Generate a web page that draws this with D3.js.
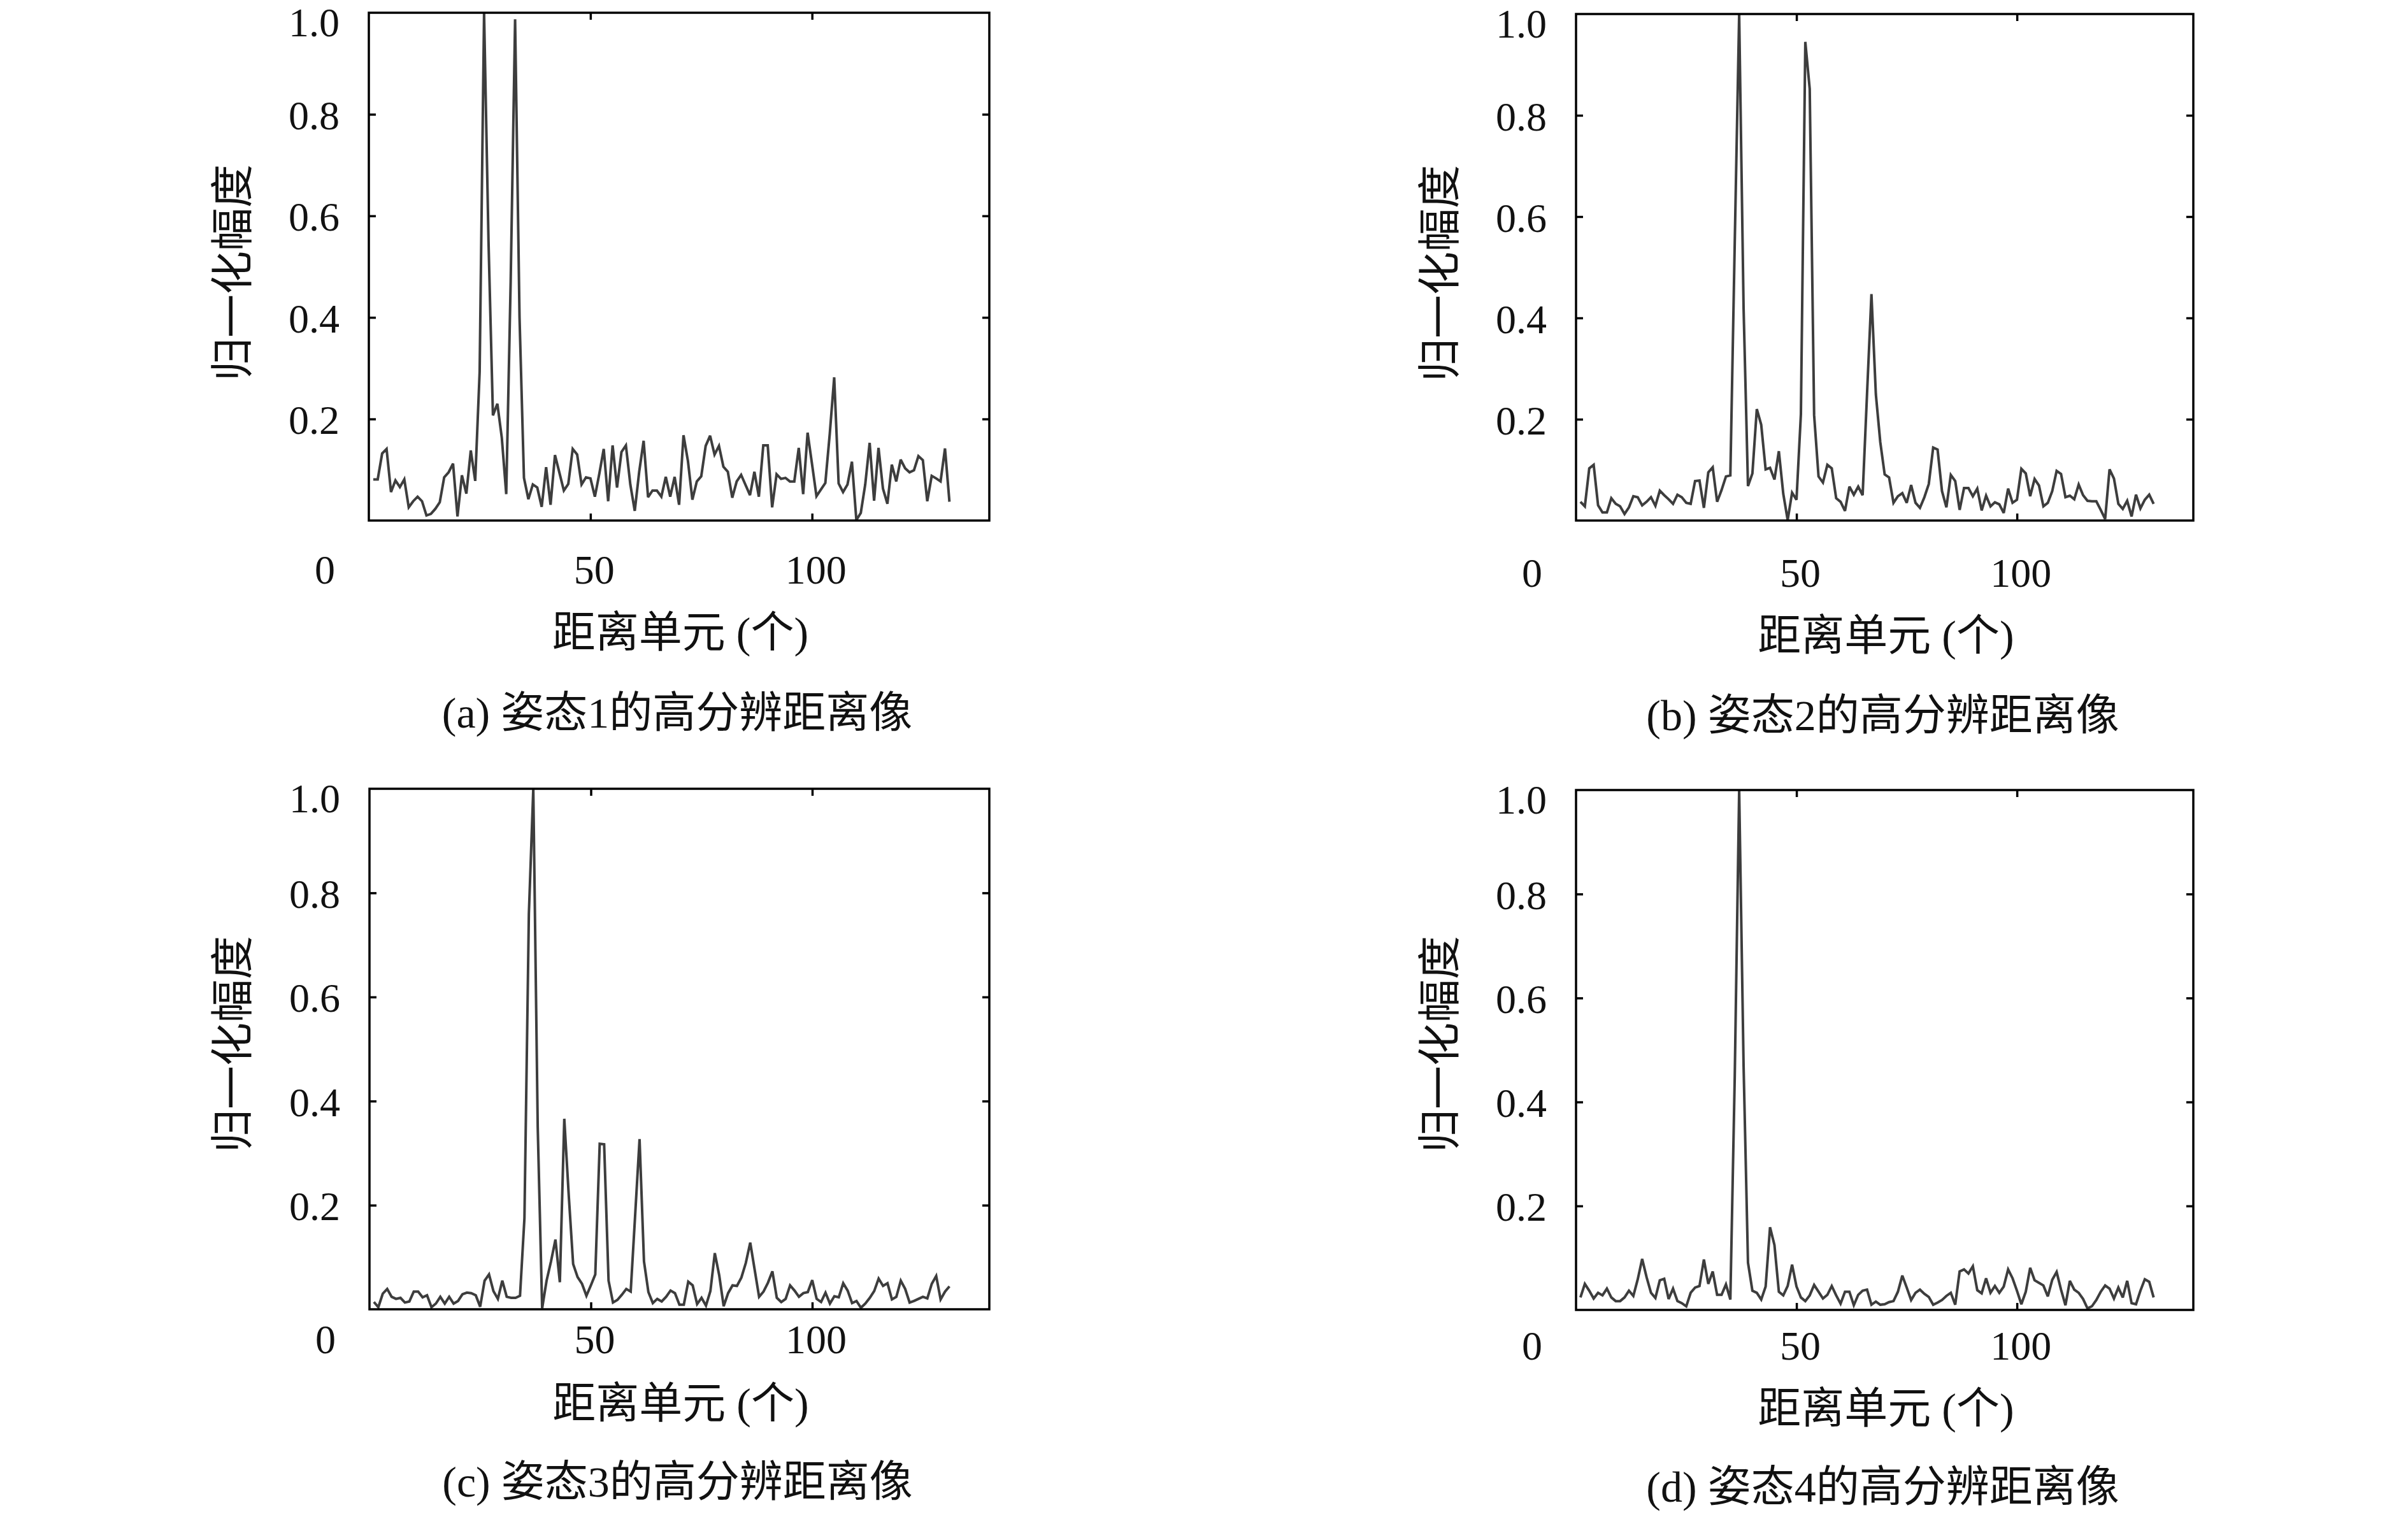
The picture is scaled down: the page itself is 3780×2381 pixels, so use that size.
<!DOCTYPE html>
<html><head><meta charset="utf-8">
<script src="https://cdn.jsdelivr.net/npm/d3@7"></script>
<style>html,body{margin:0;padding:0;background:#fff;} svg{display:block;}</style>
</head><body>
<svg id="chart" width="3780" height="2381"></svg>
<script>
// ---------- data ----------
const rangeCells = d3.range(1, 132); // 距离单元 index 1..131

const poseA = [0.081,0.081,0.132,0.141,0.056,0.079,0.066,0.081,0.026,0.038,
0.047,0.038,0.010,0.013,0.023,0.036,0.085,0.095,0.112,0.008,
0.089,0.053,0.138,0.078,0.293,1.000,0.550,0.207,0.230,0.163,
0.052,0.470,0.987,0.400,0.084,0.042,0.071,0.065,0.027,0.105,
0.031,0.129,0.094,0.059,0.072,0.141,0.130,0.071,0.085,0.083,
0.047,0.092,0.141,0.038,0.148,0.065,0.135,0.148,0.071,0.019,
0.096,0.157,0.046,0.059,0.059,0.047,0.086,0.047,0.086,0.031,
0.168,0.117,0.041,0.077,0.087,0.147,0.167,0.130,0.147,0.106,
0.096,0.045,0.077,0.090,0.070,0.050,0.096,0.047,0.148,0.148,
0.026,0.091,0.082,0.084,0.077,0.077,0.143,0.052,0.173,0.111,
0.048,0.061,0.074,0.171,0.282,0.073,0.056,0.071,0.116,0.001,
0.015,0.071,0.153,0.039,0.143,0.063,0.033,0.110,0.077,0.120,
0.103,0.095,0.099,0.127,0.119,0.038,0.088,0.083,0.077,0.142,0.037];

const poseB = [0.037,0.028,0.103,0.110,0.030,0.016,0.016,0.044,0.033,0.028,
0.013,0.026,0.048,0.046,0.030,0.037,0.046,0.029,0.059,0.050,
0.042,0.033,0.051,0.046,0.035,0.033,0.078,0.079,0.025,0.095,
0.105,0.037,0.060,0.087,0.089,0.550,1.000,0.420,0.068,0.093,
0.220,0.189,0.101,0.104,0.081,0.137,0.053,0.001,0.055,0.041,
0.210,0.945,0.852,0.208,0.087,0.075,0.110,0.103,0.044,0.037,
0.019,0.067,0.051,0.067,0.050,0.250,0.447,0.249,0.155,0.091,
0.085,0.035,0.048,0.054,0.035,0.070,0.035,0.025,0.046,0.072,
0.144,0.140,0.058,0.026,0.090,0.078,0.021,0.064,0.064,0.048,
0.063,0.020,0.049,0.028,0.036,0.032,0.015,0.063,0.035,0.041,
0.102,0.093,0.048,0.082,0.069,0.028,0.035,0.058,0.098,0.092,
0.046,0.049,0.042,0.071,0.050,0.039,0.038,0.038,0.021,0.003,
0.101,0.083,0.033,0.023,0.039,0.008,0.051,0.024,0.041,0.051,0.033];

const poseC = [0.014,0.004,0.030,0.039,0.024,0.020,0.022,0.013,0.015,0.034,
0.034,0.023,0.027,0.004,0.011,0.024,0.011,0.024,0.011,0.016,
0.029,0.032,0.031,0.027,0.005,0.055,0.067,0.035,0.020,0.055,
0.024,0.022,0.022,0.026,0.175,0.760,1.000,0.350,0.002,0.055,
0.092,0.134,0.052,0.366,0.220,0.087,0.062,0.049,0.026,0.046,
0.067,0.318,0.317,0.055,0.013,0.018,0.028,0.039,0.034,0.180,
0.327,0.092,0.033,0.012,0.020,0.015,0.024,0.036,0.031,0.009,
0.009,0.053,0.046,0.010,0.022,0.007,0.035,0.108,0.065,0.006,
0.031,0.046,0.045,0.061,0.089,0.128,0.076,0.024,0.034,0.051,
0.073,0.022,0.014,0.020,0.046,0.036,0.024,0.031,0.033,0.056,
0.020,0.014,0.032,0.011,0.025,0.023,0.050,0.036,0.012,0.016,
0.003,0.011,0.022,0.035,0.059,0.045,0.050,0.019,0.024,0.055,
0.039,0.013,0.016,0.020,0.024,0.021,0.049,0.064,0.019,0.034,0.044];

const poseD = [0.024,0.050,0.037,0.022,0.033,0.028,0.041,0.024,0.017,0.017,
0.024,0.037,0.027,0.059,0.098,0.063,0.033,0.023,0.057,0.060,
0.021,0.041,0.017,0.013,0.007,0.033,0.043,0.046,0.097,0.050,
0.074,0.029,0.029,0.049,0.020,0.450,1.000,0.470,0.091,0.037,
0.033,0.020,0.045,0.159,0.125,0.035,0.028,0.046,0.087,0.045,
0.024,0.017,0.028,0.048,0.035,0.022,0.029,0.046,0.028,0.012,
0.035,0.035,0.009,0.029,0.037,0.039,0.010,0.016,0.010,0.011,
0.015,0.017,0.035,0.066,0.043,0.019,0.033,0.039,0.031,0.025,
0.010,0.014,0.019,0.027,0.033,0.010,0.074,0.078,0.070,0.084,
0.038,0.032,0.061,0.033,0.046,0.033,0.045,0.078,0.061,0.037,
0.011,0.035,0.081,0.057,0.052,0.047,0.026,0.058,0.073,0.039,
0.009,0.056,0.039,0.033,0.021,0.003,0.007,0.019,0.035,0.047,
0.041,0.022,0.043,0.024,0.056,0.013,0.011,0.037,0.059,0.054,0.024];

const xTicks = [50, 100];
const xTickLabels = ["50", "100"];
const yTicks = [0.2, 0.4, 0.6, 0.8, 1.0];
const yTickLabels = ["0.2", "0.4", "0.6", "0.8", "1.0"];
const originLabel = "0";
const yTitle = "归一化幅度";
const xTitle = "距离单元 (个)";
const captions = ["(a) 姿态1的高分辨距离像", "(b) 姿态2的高分辨距离像",
                  "(c) 姿态3的高分辨距离像", "(d) 姿态4的高分辨距离像"];
const series = [poseA, poseB, poseC, poseD];

// ---------- layout ----------
const layout = [
  {left:579,  right:1553, top:20,   bottom:817,  tickLabelY:894,  xTitleY:993,  captionY:1119, yTitleX:366,  yTitleY:428},
  {left:2474, right:3443, top:22,   bottom:817,  tickLabelY:899,  xTitleY:998,  captionY:1123, yTitleX:2261, yTitleY:429},
  {left:580,  right:1553, top:1238, bottom:2055, tickLabelY:2102, xTitleY:2203, captionY:2326, yTitleX:366,  yTitleY:1639},
  {left:2474, right:3443, top:1240, bottom:2056, tickLabelY:2112, xTitleY:2211, captionY:2334, yTitleX:2261, yTitleY:1639}
];

const numFont = "'Liberation Serif', 'DejaVu Serif', serif";
const cjkFont = "'Liberation Serif', 'Noto Sans CJK SC', serif";
const lineColor = "#3d3d3d";
const svg = d3.select("#chart");
svg.append("rect").attr("width", 3780).attr("height", 2381).attr("fill", "#fff");

series.forEach((vals, k) => {
  const L = layout[k];
  const x = d3.scaleLinear().domain([0, 140]).range([L.left, L.right]);
  const y = d3.scaleLinear().domain([0, 1]).range([L.bottom, L.top]);
  const g = svg.append("g");

  // inward ticks on all four sides
  const tickLen = 11;
  g.append("g").attr("transform", `translate(0,${L.bottom})`)
    .call(d3.axisBottom(x).tickValues(xTicks).tickSize(-tickLen).tickSizeOuter(0).tickFormat(""));
  g.append("g").attr("transform", `translate(0,${L.top})`)
    .call(d3.axisTop(x).tickValues(xTicks).tickSize(-tickLen).tickSizeOuter(0).tickFormat(""));
  g.append("g").attr("transform", `translate(${L.left},0)`)
    .call(d3.axisLeft(y).tickValues(yTicks.slice(0, 4)).tickSize(-tickLen).tickSizeOuter(0).tickFormat(""));
  g.append("g").attr("transform", `translate(${L.right},0)`)
    .call(d3.axisRight(y).tickValues(yTicks.slice(0, 4)).tickSize(-tickLen).tickSizeOuter(0).tickFormat(""));
  g.selectAll(".domain").remove();
  g.selectAll(".tick line").attr("stroke", "#000").attr("stroke-width", 3.5);

  // data line
  const line = d3.line().x((d, i) => x(rangeCells[i])).y(d => y(d));
  g.append("path").datum(vals)
    .attr("fill", "none").attr("stroke", lineColor).attr("stroke-width", 4)
    .attr("stroke-linejoin", "miter").attr("stroke-miterlimit", 3)
    .attr("d", line);

  // frame
  g.append("rect").attr("x", L.left).attr("y", L.top)
    .attr("width", L.right - L.left).attr("height", L.bottom - L.top)
    .attr("fill", "none").attr("stroke", "#000").attr("stroke-width", 3.5);

  // y tick labels
  yTicks.forEach((t, i) => {
    g.append("text").attr("x", L.left - 46).attr("y", y(t) + (t === 1 ? 15 : 2))
      .attr("text-anchor", "end").attr("dominant-baseline", "central")
      .attr("font-family", numFont).attr("font-size", 64).attr("fill", "#111")
      .text(yTickLabels[i]);
  });
  // x tick labels
  xTicks.forEach((t, i) => {
    g.append("text").attr("x", x(t) + 6).attr("y", L.tickLabelY)
      .attr("text-anchor", "middle").attr("dominant-baseline", "central")
      .attr("font-family", numFont).attr("font-size", 64).attr("fill", "#111")
      .text(xTickLabels[i]);
  });
  g.append("text").attr("x", L.left - 69).attr("y", L.tickLabelY)
    .attr("text-anchor", "middle").attr("dominant-baseline", "central")
    .attr("font-family", numFont).attr("font-size", 64).attr("fill", "#111")
    .text(originLabel);

  // axis titles
  g.append("text").attr("transform", `translate(${L.yTitleX},${L.yTitleY}) rotate(-90)`)
    .attr("text-anchor", "middle").attr("dominant-baseline", "central")
    .attr("font-family", cjkFont).attr("font-size", 68).attr("fill", "#111")
    .text(yTitle);
  g.append("text").attr("x", (L.left + L.right) / 2 + 2).attr("y", L.xTitleY)
    .attr("text-anchor", "middle").attr("dominant-baseline", "central")
    .attr("font-family", cjkFont).attr("font-size", 68).attr("fill", "#111")
    .text(xTitle);
  // caption
  g.append("text").attr("x", (L.left + L.right) / 2 - 3).attr("y", L.captionY)
    .attr("text-anchor", "middle").attr("dominant-baseline", "central")
    .attr("font-family", cjkFont).attr("font-size", 68).attr("fill", "#111")
    .text(captions[k]);
});
</script>
</body></html>
